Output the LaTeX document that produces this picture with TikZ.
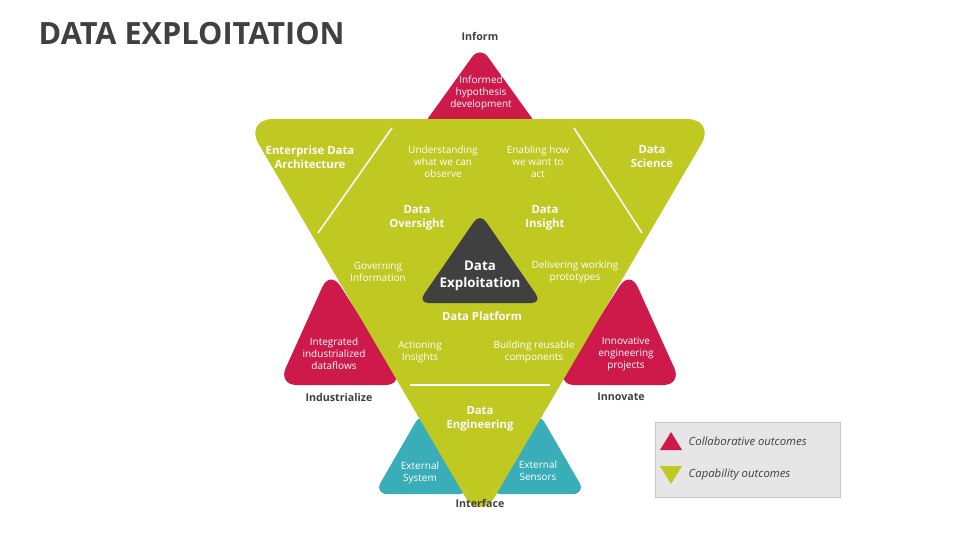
\documentclass[tikz,border=0pt]{standalone}
\usepackage{fontspec}
\setmainfont{Open Sans}
\definecolor{olive}{HTML}{BFC922}
\definecolor{crimson}{HTML}{CE1A4B}
\definecolor{teal}{HTML}{3AAEB8}
\definecolor{darkgray}{HTML}{404040}
\definecolor{boxgray}{HTML}{E6E6E6}
\begin{document}
\begin{tikzpicture}[x=0.75pt,y=-0.75pt,
  wtxt/.style={text=white,align=center,font=\fontsize{7.5}{9}\selectfont},
  wbold/.style={text=white,align=center,font=\fontsize{8.5}{10.5}\selectfont\bfseries},
  label/.style={text=darkgray,font=\fontsize{8}{10}\selectfont\bfseries}]
\useasboundingbox (0,0) rectangle (960,540);
% outer triangles
\fill[crimson,rounded corners=10pt] (480,46) -- (562,160) -- (398,160) -- cycle;
\fill[crimson,rounded corners=14pt] (330,270) -- (404,385) -- (278,385) -- cycle;
\fill[crimson,rounded corners=14pt] (630,270) -- (682,385) -- (556,385) -- cycle;
\fill[teal,rounded corners=10pt] (422,411) -- (472,494) -- (374,494) -- cycle;
\fill[teal,rounded corners=10pt] (538,411) -- (586,494) -- (488,494) -- cycle;
% big triangle
\fill[olive,rounded corners=22pt] (244,119) -- (716,119) -- (480,522) -- cycle;
\draw[white,line width=1.2pt] (318,233) -- (392,128);
\draw[white,line width=1.2pt] (642,233) -- (574,128);
\draw[white,line width=1.2pt] (410,385) -- (550,385);
% centre
\fill[darkgray,rounded corners=8pt] (480,213) -- (542,303) -- (418,303) -- cycle;
\node[wbold,font=\fontsize{10}{12.5}\selectfont\bfseries] (core) at (480,276) {Data\\Exploitation};
% title
\node[anchor=west,text=darkgray,font=\fontsize{23}{28}\selectfont\bfseries] (title) at (34,34) {DATA EXPLOITATION};
% labels
\node[label] (inform) at (480,36) {Inform};
\node[label] (industrialize) at (339,397) {Industrialize};
\node[label] (innovate) at (621,397) {Innovate};
\node[label] (interface) at (480,503) {Interface};
\node[wtxt] (hypo) at (481,93) {Informed\\hypothesis\\development};
\node[wtxt] (dataflows) at (334,354) {Integrated\\industrialized\\dataflows};
\node[wtxt] (projects) at (626,354) {Innovative\\engineering\\projects};
\node[wtxt] (system) at (420,473) {External\\System};
\node[wtxt] (sensors) at (538,471) {External\\Sensors};
% big triangle text
\node[wbold] (eda) at (310,157) {Enterprise Data\\Architecture};
\node[wbold] (science) at (652,157) {Data\\Science};
\node[wtxt] (observe) at (443,162) {Understanding\\what we can\\observe};
\node[wtxt] (act) at (538,162) {Enabling how\\we want to\\act};
\node[wbold] (oversight) at (417,218) {Data\\Oversight};
\node[wbold] (insight) at (545,218) {Data\\Insight};
\node[wtxt] (governing) at (378,272) {Governing\\Information};
\node[wtxt] (prototypes) at (575,272) {Delivering working\\prototypes};
\node[wbold] (platform) at (482,316) {Data Platform};
\node[wtxt] (actioning) at (420,352) {Actioning\\Insights};
\node[wtxt] (reusable) at (534,352) {Building reusable\\components};
\node[wbold] (engineering) at (480,419) {Data\\Engineering};
% legend
\draw[boxgray!70!gray,fill=boxgray] (655,422) rectangle (840,497);
\fill[crimson] (660,450) -- (682,450) -- (671,432) -- cycle;
\fill[olive] (660,466) -- (682,466) -- (671,484) -- cycle;
\node[anchor=west,text=darkgray,font=\fontsize{8.5}{10}\selectfont\itshape] (collab) at (684,441) {Collaborative outcomes};
\node[anchor=west,text=darkgray,font=\fontsize{8.5}{10}\selectfont\itshape] (capab) at (684,475) {Capability outcomes};
\end{tikzpicture}
\end{document}
